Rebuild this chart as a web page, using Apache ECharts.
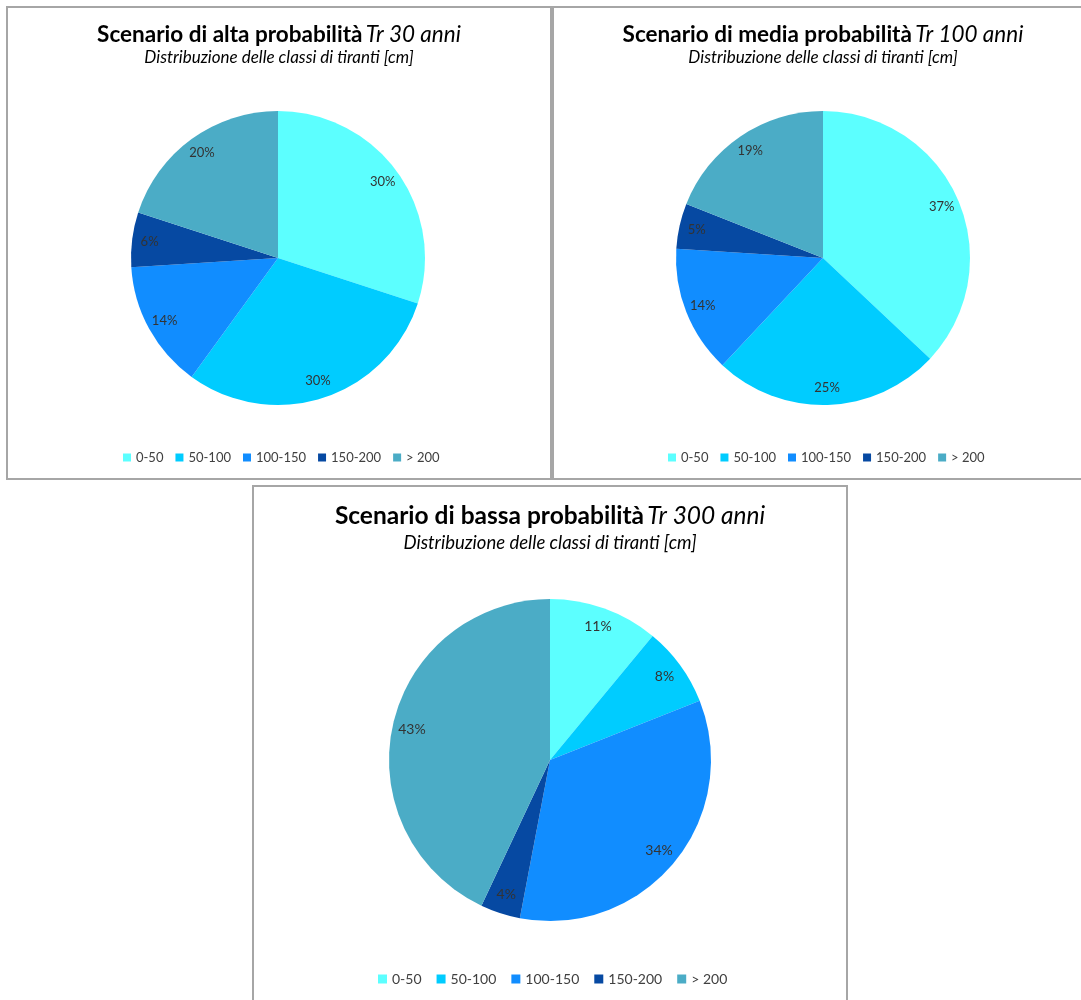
<!DOCTYPE html>
<html>
<head>
<meta charset="utf-8">
<script src="https://cdn.jsdelivr.net/npm/echarts@6/dist/echarts.min.js"></script>
<style>
  html, body { margin: 0; padding: 0; background: #fff; }
  #chart { width: 1081px; height: 1000px; }
</style>
</head>
<body>
<div id="chart"></div>
<script>
// classes of water depth (cm)
const categories = ['0-50', '50-100', '100-150', '150-200', '> 200'];
const altaValues = [30, 30, 14, 6, 20];   // Tr 30 anni
const mediaValues = [37, 25, 14, 5, 19];  // Tr 100 anni
const bassaValues = [11, 8, 34, 4, 43];   // Tr 300 anni
const colors = ['#5CFFFF', '#00CCFF', '#118DFF', '#0649A2', '#4BACC6'];

const font = 'Lato, "Open Sans", sans-serif';
const chart = echarts.init(document.getElementById('chart'));

const panels = [
  { values: altaValues, title: 'Scenario di alta probabilità', tr: 'Tr 30 anni',
    cx: 278, cy: 258, r: 147, tx: 279, ty: 35, sy: 58, tSize: 22.5, sSize: 17,
    legendLeft: 123, legendTop: 451, lSize: 13, icon: 8, gap: 12, labelSize: 13 },
  { values: mediaValues, title: 'Scenario di media probabilità', tr: 'Tr 100 anni',
    cx: 823, cy: 258, r: 147, tx: 823, ty: 35, sy: 58, tSize: 22.5, sSize: 17,
    legendLeft: 668, legendTop: 451, lSize: 13, icon: 8, gap: 12, labelSize: 13 },
  { values: bassaValues, title: 'Scenario di bassa probabilità', tr: 'Tr 300 anni',
    cx: 550, cy: 760, r: 161, tx: 550, ty: 516, sy: 543, tSize: 24.5, sSize: 18.5,
    legendLeft: 378, legendTop: 972, lSize: 14, icon: 9, gap: 15, labelSize: 14 }
];

const series = [];
const legends = [];
const graphics = [
  { type: 'rect', shape: { x: 7, y: 7, width: 544, height: 472 },
    style: { fill: 'none', stroke: '#a6a6a6', lineWidth: 2 } },
  { type: 'rect', shape: { x: 553, y: 7, width: 540, height: 472 },
    style: { fill: 'none', stroke: '#a6a6a6', lineWidth: 2 } },
  { type: 'rect', shape: { x: 253, y: 486, width: 594, height: 530 },
    style: { fill: 'none', stroke: '#a6a6a6', lineWidth: 2 } }
];

panels.forEach(function (p) {
  const data = categories.map(function (name, i) {
    return { name: name, value: p.values[i], itemStyle: { color: colors[i] } };
  });
  // filled pie
  series.push({
    type: 'pie',
    center: [p.cx, p.cy],
    radius: p.r,
    startAngle: 90,
    clockwise: true,
    silent: true,
    label: { show: false },
    labelLine: { show: false },
    itemStyle: { borderWidth: 0 },
    data: data
  });
  // transparent ring, only used to place the labels near the rim
  series.push({
    type: 'pie',
    center: [p.cx, p.cy],
    radius: [p.r * 0.72, p.r],
    startAngle: 90,
    clockwise: true,
    silent: true,
    itemStyle: { color: 'rgba(0,0,0,0)', borderWidth: 0 },
    label: {
      show: true,
      position: 'inside',
      formatter: '{c}%',
      color: '#333',
      fontSize: p.labelSize,
      fontFamily: font
    },
    labelLine: { show: false },
    data: categories.map(function (name, i) { return { name: name, value: p.values[i] }; })
  });
  legends.push({
    data: categories,
    left: p.legendLeft,
    top: p.legendTop,
    padding: 0,
    icon: 'rect',
    itemWidth: p.icon,
    itemHeight: p.icon,
    itemGap: p.gap,
    selectedMode: false,
    textStyle: { fontSize: p.lSize, color: '#404040', fontFamily: font }
  });
  graphics.push({
    type: 'text',
    x: p.tx,
    y: p.ty,
    style: {
      text: '{b|' + p.title + '} {i|' + p.tr + '}',
      align: 'center',
      verticalAlign: 'middle',
      fill: '#000',
      rich: {
        b: { fontWeight: 'bold', fontSize: p.tSize, fontFamily: font, fill: '#000' },
        i: { fontStyle: 'italic', fontSize: p.tSize, fontFamily: font, fill: '#000' }
      }
    }
  });
  graphics.push({
    type: 'text',
    x: p.tx,
    y: p.sy,
    style: {
      text: 'Distribuzione delle classi di tiranti [cm]',
      align: 'center',
      verticalAlign: 'middle',
      fill: '#000',
      font: 'italic ' + p.sSize + 'px ' + font
    }
  });
});

chart.setOption({
  animation: false,
  backgroundColor: '#fff',
  legend: legends,
  graphic: graphics,
  series: series
});
</script>
</body>
</html>
